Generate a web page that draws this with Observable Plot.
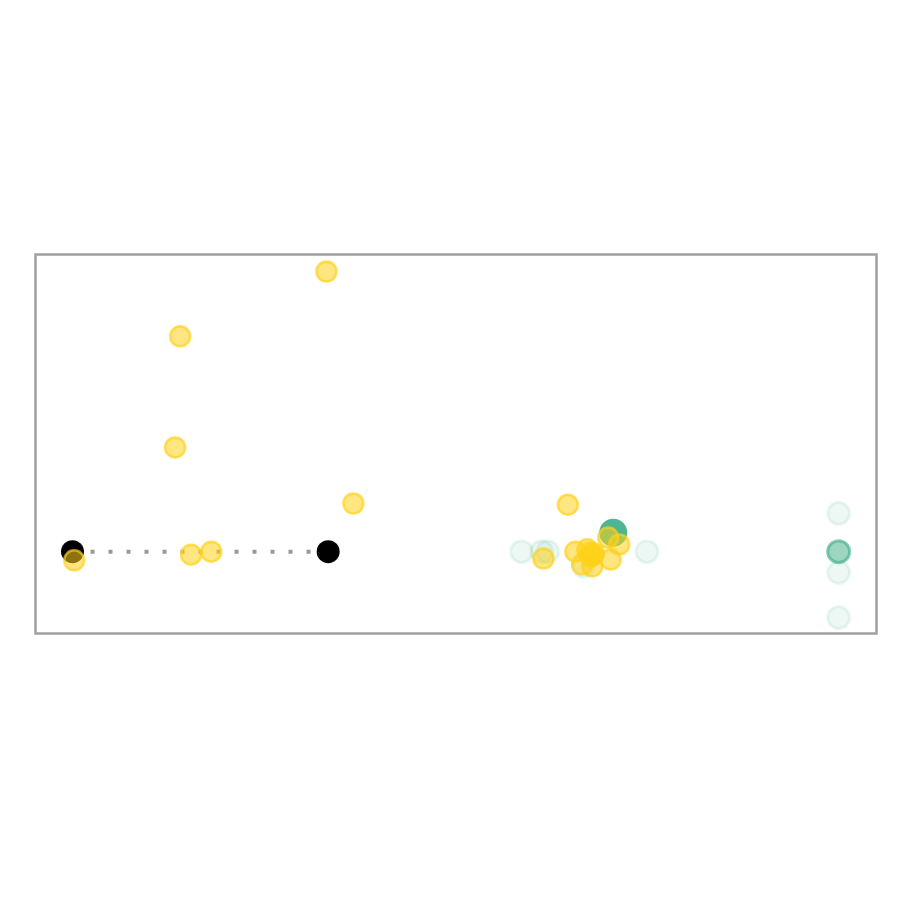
<!DOCTYPE html>
<html>
<head>
<meta charset="utf-8">
<script src="https://cdn.jsdelivr.net/npm/d3@7"></script>
<script src="https://cdn.jsdelivr.net/npm/@observablehq/plot@0.6"></script>
<style>
  html, body { margin: 0; padding: 0; background: #fff; }
  #chart { width: 900px; height: 900px; }
</style>
</head>
<body>
<div id="chart"></div>
<script>
// Black reference pair (connected by dotted line)
const refX = [4.4, 34.8];
const refY = [21.6, 21.6];

// Yellow (gold) points
const goldX = [34.6, 17.2, 16.6, 37.8, 4.6, 18.5, 20.9, 63.3, 60.4, 64.2, 65.0, 65.6, 66.0, 66.4, 66.2, 68.4, 68.1, 69.4, 65.9, 66.3];
const goldY = [95.5, 78.4, 49.1, 34.3, 19.3, 20.8, 21.6, 34.0, 19.8, 21.6, 18.2, 22.2, 20.3, 21.1, 17.7, 19.5, 25.3, 23.5, 21.4, 20.8];

// Faint green points
const faintX = [57.8, 60.2, 60.9, 65.2, 72.7, 95.5, 95.5, 95.5];
const faintY = [21.6, 21.6, 21.6, 17.7, 21.6, 31.7, 16.1, 4.2];

// Medium green point
const medX = [95.5];
const medY = [21.6];

// Strong green point
const strongX = [68.7];
const strongY = [26.6];

const toRows = (xs, ys) => xs.map((x, i) => ({x, y: ys[i]}));
const ref = toRows(refX, refY);
const gold = toRows(goldX, goldY);
const faint = toRows(faintX, faintY);
const med = toRows(medX, medY);
const strong = toRows(strongX, strongY);

const green = "#3aae84";
const yellow = "#ffd21a";

const chart = Plot.plot({
  width: 900,
  height: 900,
  marginLeft: 35,
  marginRight: 24,
  marginTop: 254,
  marginBottom: 267,
  x: {domain: [0, 100], axis: null},
  y: {domain: [0, 100], axis: null},
  marks: [
    Plot.frame({stroke: "#a0a0a0", strokeWidth: 2.5}),
    Plot.dot(faint, {x: "x", y: "y", r: 11, fill: green, fillOpacity: 0.09, stroke: green, strokeOpacity: 0.1, strokeWidth: 3}),
    Plot.dot(med, {x: "x", y: "y", r: 11, fill: green, fillOpacity: 0.5, stroke: green, strokeOpacity: 0.6, strokeWidth: 3}),
    Plot.dot(strong, {x: "x", y: "y", r: 14, fill: green, fillOpacity: 0.9, stroke: "none"}),
    Plot.line(ref, {x: "x", y: "y", stroke: "#999999", strokeWidth: 4, strokeDasharray: "4,14", strokeLinecap: "butt"}),
    Plot.dot(ref, {x: "x", y: "y", r: 11.5, fill: "#000", stroke: "none"}),
    Plot.dot(gold, {x: "x", y: "y", r: 10, fill: yellow, fillOpacity: 0.55, stroke: yellow, strokeOpacity: 0.7, strokeWidth: 2.5})
  ]
});
document.getElementById("chart").appendChild(chart);
</script>
</body>
</html>
